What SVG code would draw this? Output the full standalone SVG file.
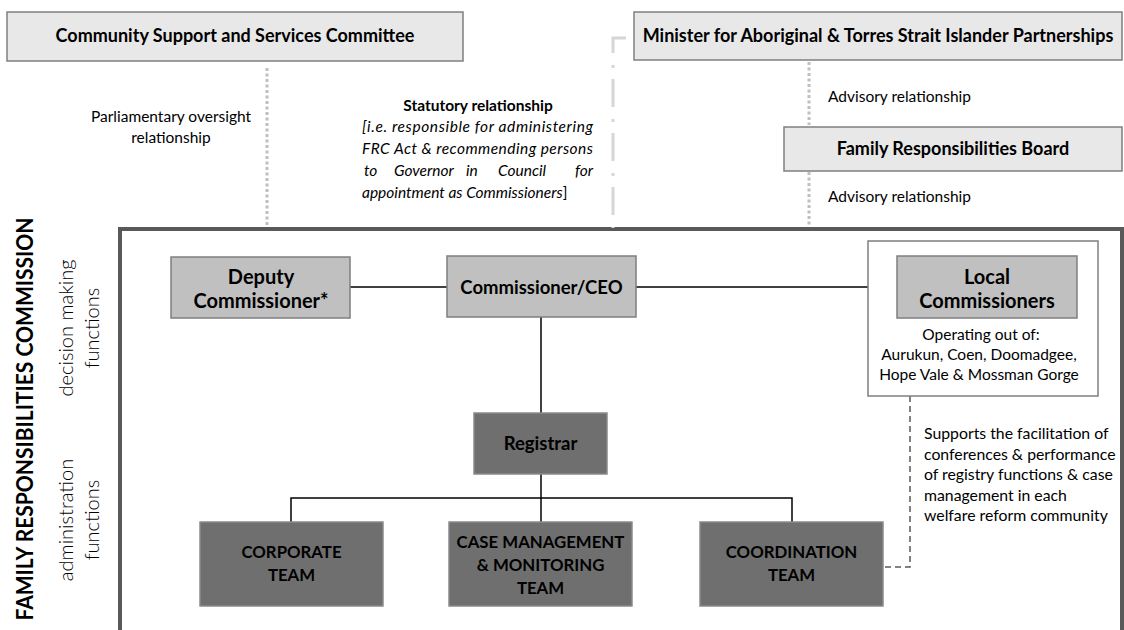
<svg xmlns="http://www.w3.org/2000/svg" width="1124" height="630" viewBox="0 0 1124 630">
<style>
text{font-family:Lato,"Liberation Sans",sans-serif;fill:#000}
.b{font-weight:bold}
.top{fill:#e8e8e8;stroke:#7f7f7f;stroke-width:1.5}
.mid{fill:#c0c0c0;stroke:#7f7f7f;stroke-width:1.5}
.dark{fill:#6f6f6f;stroke:#8a8a8a;stroke-width:1.5}
.t18{font-size:18px}
.t19{font-size:18.5px}
.t20{font-size:20px}
.caps{font-size:16.8px}
.r{font-size:15.5px}
.s{font-size:15.8px}
.it{font-size:15.5px;font-style:italic}
.side{font-size:20px;font-weight:300}
.dot{fill:none;stroke:#bfbfbf;stroke-width:3;stroke-dasharray:3 2.5}
.solid{fill:none;stroke:#000;stroke-width:1.5}
</style>
<rect width="1124" height="630" fill="#fff"/>

<g id="frame">
<rect x="120" y="229" width="1002" height="420" fill="none" stroke="#595959" stroke-width="4"/>
</g>

<g id="connectors">
<line class="dot" x1="267" y1="68" x2="267" y2="226"/>
<line class="dot" x1="809" y1="62" x2="809" y2="125"/>
<line class="dot" x1="809" y1="172" x2="809" y2="226"/>
<path d="M626 38 H613 V228" fill="none" stroke="#d6d6d6" stroke-width="3" stroke-dasharray="28 12 3 11"/>
<line class="solid" x1="350" y1="287" x2="447" y2="287"/>
<line class="solid" x1="636" y1="287" x2="868" y2="287"/>
<line class="solid" x1="541" y1="317" x2="541" y2="413"/>
<line class="solid" x1="541" y1="474" x2="541" y2="522"/>
<path class="solid" d="M291 522 V498 H792 V522"/>
<path d="M910 396 V567 H883" fill="none" stroke="#595959" stroke-width="1.5" stroke-dasharray="6 4"/>
</g>

<g id="community-committee">
<rect class="top" x="7" y="12" width="456" height="49"/>
<text class="b t18" x="235" y="42" text-anchor="middle">Community Support and Services Committee</text>
</g>

<g id="minister">
<rect class="top" x="634" y="12" width="488" height="48"/>
<text class="b t18" x="878" y="42" text-anchor="middle">Minister for Aboriginal &amp; Torres Strait Islander Partnerships</text>
</g>

<g id="board">
<rect class="top" x="784" y="127" width="338" height="44"/>
<text class="b t18" x="953" y="155" text-anchor="middle">Family Responsibilities Board</text>
</g>

<g id="labels">
<text class="r" x="171" y="122" text-anchor="middle">Parliamentary oversight</text>
<text class="r" x="171" y="143" text-anchor="middle">relationship</text>
<text class="r" x="828" y="102">Advisory relationship</text>
<text class="r" x="828" y="202">Advisory relationship</text>
<text class="b r" x="478" y="111" text-anchor="middle">Statutory relationship</text>
<text class="it" x="362" y="132" textLength="231" lengthAdjust="spacing">[i.e. responsible for administering</text>
<text class="it" x="362" y="154" textLength="231" lengthAdjust="spacing">FRC Act &amp; recommending persons</text>
<text class="it" x="364" y="176">to</text>
<text class="it" x="394" y="176">Governor</text>
<text class="it" x="466" y="176">in</text>
<text class="it" x="498" y="176">Council</text>
<text class="it" x="593" y="176" text-anchor="end">for</text>
<text class="it" x="362" y="198">appointment as Commissioners<tspan font-style="normal">]</tspan></text>
<text class="b" font-size="22" transform="translate(33,419) rotate(-90)" text-anchor="middle" textLength="403" lengthAdjust="spacingAndGlyphs">FAMILY RESPONSIBILITIES COMMISSION</text>
<text class="side" transform="translate(73,328) rotate(-90)" text-anchor="middle">decision making</text>
<text class="side" transform="translate(99,328) rotate(-90)" text-anchor="middle">functions</text>
<text class="side" transform="translate(73,520) rotate(-90)" text-anchor="middle">administration</text>
<text class="side" transform="translate(99,520) rotate(-90)" text-anchor="middle">functions</text>
<text class="s" x="924" y="439">Supports the facilitation of</text>
<text class="s" x="924" y="459.5">conferences &amp; performance</text>
<text class="s" x="924" y="480">of registry functions &amp; case</text>
<text class="s" x="924" y="500.5">management in each</text>
<text class="s" x="924" y="521">welfare reform community</text>
</g>

<g id="deputy-commissioner">
<rect class="mid" x="171" y="257" width="179" height="61"/>
<text class="b t20" x="261" y="284" text-anchor="middle">Deputy</text>
<text class="b t20" x="261" y="308" text-anchor="middle">Commissioner*</text>
</g>

<g id="commissioner-ceo">
<rect class="mid" x="447" y="256" width="189" height="61"/>
<text class="b t19" x="541.5" y="294" text-anchor="middle">Commissioner/CEO</text>
</g>

<g id="local-commissioners">
<rect x="868" y="241" width="230" height="155" fill="#fff" stroke="#7f7f7f" stroke-width="1.5"/>
<rect class="mid" x="897" y="256" width="180" height="62"/>
<text class="b t20" x="987" y="284" text-anchor="middle">Local</text>
<text class="b t20" x="987" y="308" text-anchor="middle">Commissioners</text>
<text class="r" x="981" y="340" text-anchor="middle">Operating out of:</text>
<text class="r" x="979" y="360" text-anchor="middle">Aurukun, Coen, Doomadgee,</text>
<text class="r" x="979" y="380" text-anchor="middle">Hope Vale &amp; Mossman Gorge</text>
</g>

<g id="registrar">
<rect class="dark" x="474" y="413" width="133" height="61"/>
<text class="b t19" x="540.5" y="450" text-anchor="middle">Registrar</text>
</g>

<g id="corporate-team">
<rect class="dark" x="200" y="522" width="183" height="84"/>
<text class="b caps" x="291.5" y="558" text-anchor="middle">CORPORATE</text>
<text class="b caps" x="291.5" y="581" text-anchor="middle">TEAM</text>
</g>

<g id="case-management-team">
<rect class="dark" x="449" y="522" width="183" height="84"/>
<text class="b caps" x="540.5" y="548" text-anchor="middle">CASE MANAGEMENT</text>
<text class="b caps" x="540.5" y="571" text-anchor="middle">&amp; MONITORING</text>
<text class="b caps" x="540.5" y="594" text-anchor="middle">TEAM</text>
</g>

<g id="coordination-team">
<rect class="dark" x="700" y="522" width="183" height="84"/>
<text class="b caps" x="791.5" y="558" text-anchor="middle">COORDINATION</text>
<text class="b caps" x="791.5" y="581" text-anchor="middle">TEAM</text>
</g>
</svg>
